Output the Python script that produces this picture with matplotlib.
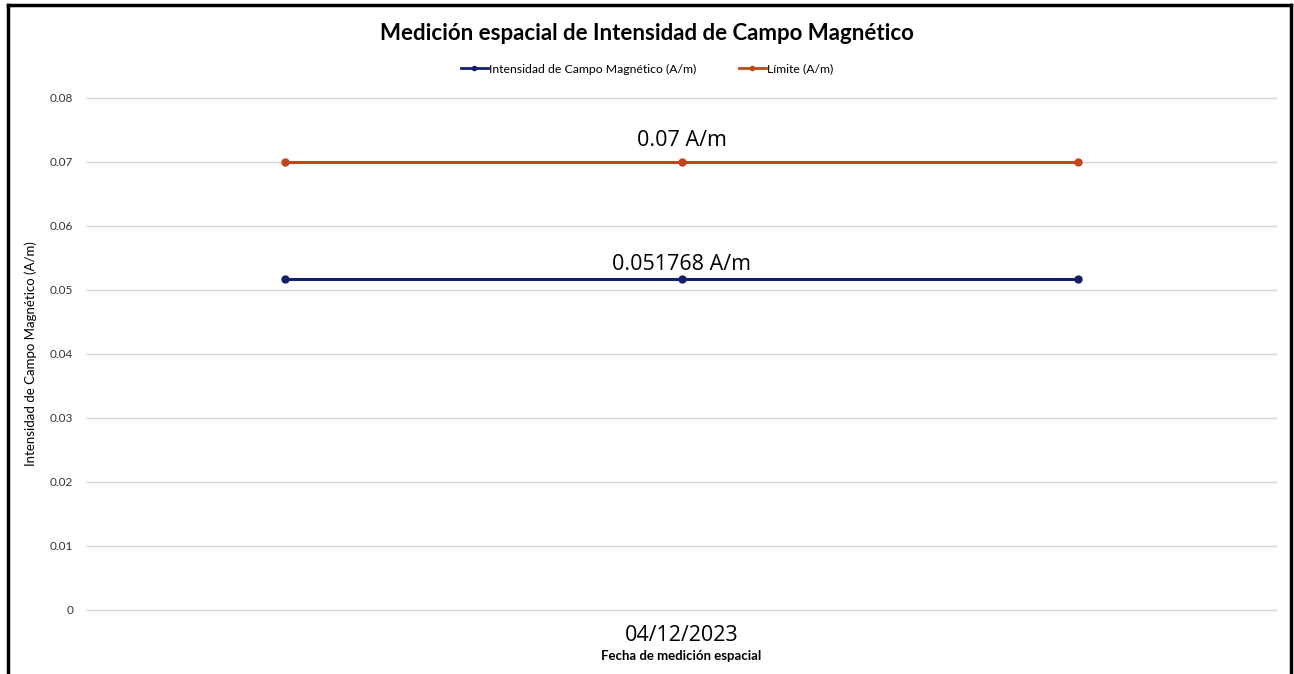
import matplotlib
matplotlib.use("Agg")
import matplotlib.pyplot as plt
from matplotlib.lines import Line2D

plt.rcParams['font.family'] = ['Lato', 'DejaVu Sans']

x_pos = [0, 1, 2]
x_tick_label = "04/12/2023"
intensidad = [0.051768, 0.051768, 0.051768]
limite = [0.07, 0.07, 0.07]
y_ticks = [0, 0.01, 0.02, 0.03, 0.04, 0.05, 0.06, 0.07, 0.08]
y_tick_labels = ["0", "0.01", "0.02", "0.03", "0.04", "0.05", "0.06", "0.07", "0.08"]
label_intensidad = "0.051768 A/m"
label_limite = "0.07 A/m"

blue = '#12206a'
orange = '#c2461b'

fig = plt.figure(figsize=(12.94, 6.74), dpi=100)
ax = fig.add_axes([87/1294, (674-610)/674, (1276-87)/1294, (610-98)/674])

ax.plot(x_pos, intensidad, color=blue, lw=2.2, marker='o', ms=5,
        label='Intensidad de Campo Magnético (A/m)')
ax.plot(x_pos, limite, color=orange, lw=2.2, marker='o', ms=5,
        label='Límite (A/m)')

ax.set_xlim(-0.5, 2.5)
ax.set_ylim(0, 0.08)
ax.set_yticks(y_ticks)
ax.set_yticklabels(y_tick_labels, fontsize=8.5, color='#333333')
ax.yaxis.grid(True, color='#d4d4d4', lw=1)
for gl in ax.get_ygridlines():
    gl.set_clip_on(False)
ax.set_axisbelow(True)
ax.tick_params(axis='y', length=0, pad=10)
ax.set_xticks([1])
ax.set_xticklabels([x_tick_label], fontsize=15.5, family=['Open Sans', 'DejaVu Sans'])
ax.tick_params(axis='x', length=0, pad=11)
for s in ax.spines.values():
    s.set_visible(False)

ax.annotate(label_limite, (x_pos[1], limite[1]), xytext=(0, 8), textcoords='offset points',
            ha='center', va='bottom', fontsize=15.5, family=['Open Sans', 'DejaVu Sans'])
ax.annotate(label_intensidad, (x_pos[1], intensidad[1]), xytext=(0, 3), textcoords='offset points',
            ha='center', va='bottom', fontsize=15.5, family=['Open Sans', 'DejaVu Sans'])

ax.set_xlabel('Fecha de medición espacial', fontsize=9.5, fontweight='bold', labelpad=3)
ax.set_ylabel('Intensidad de Campo Magnético (A/m)', fontsize=9.5)
ax.yaxis.set_label_coords((37 - 87) / 1189, 0.5)

fig.text(0.5, 1 - 33/674, 'Medición espacial de Intensidad de Campo Magnético',
         ha='center', va='center', fontsize=16, fontweight='bold')

handles = [Line2D([0], [0], color=blue, lw=2, marker='o', ms=3),
           Line2D([0], [0], color=orange, lw=2, marker='o', ms=3)]
fig.legend(handles, ['Intensidad de Campo Magnético (A/m)', 'Límite (A/m)'],
           loc='center', bbox_to_anchor=(0.5, 1 - 69/674), ncol=2, frameon=False,
           fontsize=8.8, handlelength=2.2, handletextpad=0.1, columnspacing=3.5)

# outer frame (left, top, right)
fig.add_artist(Line2D([8/1294, 8/1294], [0, 1 - 5/674], color='black', lw=2.5, transform=fig.transFigure))
fig.add_artist(Line2D([8/1294, 1291/1294], [1 - 5/674, 1 - 5/674], color='black', lw=2.5, transform=fig.transFigure))
fig.add_artist(Line2D([1291/1294, 1291/1294], [0, 1 - 5/674], color='black', lw=2.5, transform=fig.transFigure))

fig.savefig('out.png', dpi=100, facecolor='white')
